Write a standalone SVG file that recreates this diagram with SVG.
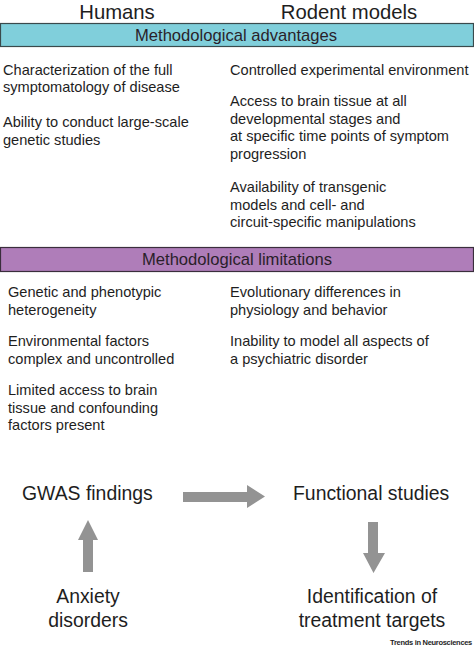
<svg xmlns="http://www.w3.org/2000/svg" width="474" height="650" viewBox="0 0 474 650">
<style>
text{font-family:"Liberation Sans",Arial,sans-serif;fill:#1e1e1e}
.h{font-size:20.3px}
.bar{font-size:16.6px;text-anchor:middle;fill:#2a1f2a}
.b{font-size:14.6px}
.big{font-size:19.4px}
.c{text-anchor:middle}
.arr{fill:#939393}
</style>
<rect width="474" height="650" fill="#fff"/>
<g id="headers">
<text class="h c" x="117" y="19">Humans</text>
<text class="h c" x="349" y="19">Rodent models</text>
</g>
<g id="advantages-bar">
<rect x="0.5" y="23.5" width="473" height="23" fill="#80cfdb" stroke="#3a4a4c" stroke-width="1.2"/>
<text class="bar" x="236" y="41">Methodological advantages</text>
</g>
<g id="human-advantages">
<text class="b" x="3" y="75">Characterization of the full</text>
<text class="b" x="3" y="92">symptomatology of disease</text>
<text class="b" x="3" y="127">Ability to conduct large-scale</text>
<text class="b" x="3" y="144.5">genetic studies</text>
</g>
<g id="rodent-advantages">
<text class="b" x="230" y="75">Controlled experimental environment</text>
<text class="b" x="230" y="106">Access to brain tissue at all</text>
<text class="b" x="230" y="123.5">developmental stages and</text>
<text class="b" x="230" y="141">at specific time points of symptom</text>
<text class="b" x="230" y="158.5">progression</text>
<text class="b" x="230" y="192">Availability of transgenic</text>
<text class="b" x="230" y="209.5">models and cell- and</text>
<text class="b" x="230" y="227">circuit-specific manipulations</text>
</g>
<g id="limitations-bar">
<rect x="0.5" y="247.5" width="473" height="24" fill="#af7db9" stroke="#3a2e3c" stroke-width="1.2"/>
<text class="bar" x="237" y="265">Methodological limitations</text>
</g>
<g id="human-limitations">
<text class="b" x="8" y="297">Genetic and phenotypic</text>
<text class="b" x="8" y="314.5">heterogeneity</text>
<text class="b" x="8" y="346">Environmental factors</text>
<text class="b" x="8" y="363.5">complex and uncontrolled</text>
<text class="b" x="8" y="395">Limited access to brain</text>
<text class="b" x="8" y="412.5">tissue and confounding</text>
<text class="b" x="8" y="430">factors present</text>
</g>
<g id="rodent-limitations">
<text class="b" x="230" y="297">Evolutionary differences in</text>
<text class="b" x="230" y="314.5">physiology and behavior</text>
<text class="b" x="230" y="346">Inability to model all aspects of</text>
<text class="b" x="230" y="363.5">a psychiatric disorder</text>
</g>
<g id="gwas">
<text class="big" x="22" y="500">GWAS findings</text>
</g>
<g id="functional">
<text class="big" x="293" y="500">Functional studies</text>
</g>
<g id="anxiety">
<text class="big c" x="88" y="603">Anxiety</text>
<text class="big c" x="88" y="627">disorders</text>
</g>
<g id="identification">
<text class="big c" x="372" y="603">Identification of</text>
<text class="big c" x="372" y="627">treatment targets</text>
</g>
<g id="connectors">
<polygon class="arr" points="183,492 247,492 247,485 265,496.5 247,508 247,502 183,502"/>
<polygon class="arr" points="83,572 83,540 78,540 88,520 98,540 93,540 93,572"/>
<polygon class="arr" points="368,522 378,522 378,553 385,553 373.5,573 363,553 368,553"/>
</g>
<text x="472" y="645" style="font-size:7.5px;font-weight:bold;text-anchor:end;letter-spacing:-0.3px">Trends in Neurosciences</text>
</svg>
